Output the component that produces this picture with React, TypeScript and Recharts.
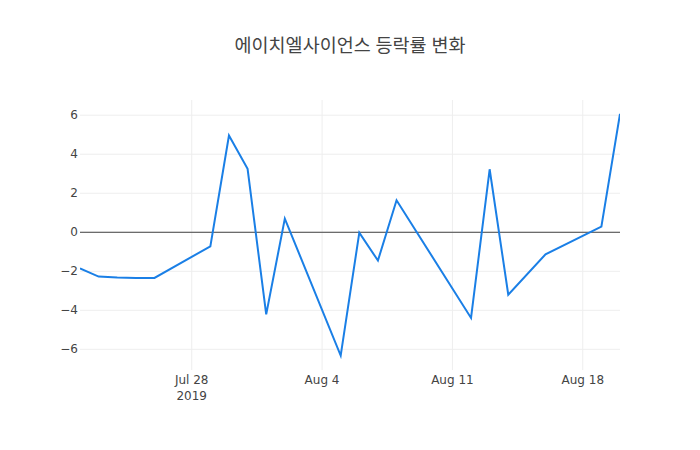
import React from "react";
import {
  LineChart,
  Line,
  XAxis,
  YAxis,
  CartesianGrid,
  ReferenceLine,
} from "recharts";

// daily change rate (%) by trading day
const dates = [
  "2019-07-22", "2019-07-23", "2019-07-24", "2019-07-25", "2019-07-26",
  "2019-07-29", "2019-07-30", "2019-07-31", "2019-08-01", "2019-08-02",
  "2019-08-05", "2019-08-06", "2019-08-07", "2019-08-08", "2019-08-12",
  "2019-08-13", "2019-08-14", "2019-08-16", "2019-08-19", "2019-08-20",
];
const changes = [
  -1.85, -2.27, -2.32, -2.34, -2.34,
  -0.72, 4.96, 3.25, -4.21, 0.7,
  -6.32, -0.02, -1.45, 1.64, -4.39,
  3.23, -3.2, -1.13, 0.29, 6.07,
];

const xTickDates = ["2019-07-28", "2019-08-04", "2019-08-11", "2019-08-18"];
const xTickLabels = ["Jul 28", "Aug 4", "Aug 11", "Aug 18"];
const yTicks = [-6, -4, -2, 0, 2, 4, 6];

const title = "에이치엘사이언스 등락률 변화";

const data = dates.map((d, i) => ({ t: Date.parse(d), v: changes[i] }));
const xTicks = xTickDates.map((d) => Date.parse(d));

const TICK_FONT = '"DejaVu Sans", Verdana, sans-serif';
const TITLE_FONT = '"Open Sans", "Noto Sans CJK KR", sans-serif';

function XTick({ x, y, payload, index }: any) {
  const i = xTicks.indexOf(payload.value);
  return (
    <g>
      <text x={x} y={y + 14} textAnchor="middle" fill="#444" fontSize={12} fontFamily={TICK_FONT}>
        {xTickLabels[i]}
      </text>
      {index === 0 && (
        <text x={x} y={y + 30} textAnchor="middle" fill="#444" fontSize={12} fontFamily={TICK_FONT}>
          2019
        </text>
      )}
    </g>
  );
}

function YTick({ x, y, payload }: any) {
  const v = payload.value as number;
  const label = v < 0 ? "\u2212" + Math.abs(v) : String(v);
  return (
    <text x={x} y={y} dy={4} textAnchor="end" fill="#444" fontSize={12} fontFamily={TICK_FONT}>
      {label}
    </text>
  );
}

export default function App() {
  return (
    <div style={{ position: "fixed", left: 0, top: 0, width: 700, height: 450, background: "#fff" }}>
      <div
        style={{
          position: "absolute",
          top: 31,
          width: 700,
          textAlign: "center",
          fontFamily: TITLE_FONT,
          fontSize: 18.5,
          color: "#444",
        }}
      >
        {title}
      </div>
      <LineChart
        width={700}
        height={450}
        data={data}
        margin={{ top: 100, right: 80, bottom: 50, left: 50 }}
      >
        <CartesianGrid
          stroke="#eee"
          strokeWidth={1}
          horizontalValues={yTicks}
          verticalValues={xTicks}
        />
        <XAxis
          dataKey="t"
          type="number"
          domain={[data[0].t, data[data.length - 1].t]}
          ticks={xTicks}
          tick={<XTick />}
          tickLine={false}
          axisLine={false}
          tickSize={0}
          tickMargin={0}
          height={30}
          allowDataOverflow
        />
        <YAxis
          type="number"
          domain={[-7.06, 6.78]}
          ticks={yTicks}
          tick={<YTick />}
          tickLine={false}
          axisLine={false}
          tickSize={0}
          tickMargin={2}
          width={30}
          allowDataOverflow
        />
        <ReferenceLine y={0} stroke="#444" strokeWidth={1} />
        <Line
          type="linear"
          dataKey="v"
          stroke="#1a7fe6"
          strokeWidth={2}
          dot={false}
          isAnimationActive={false}
        />
      </LineChart>
    </div>
  );
}
